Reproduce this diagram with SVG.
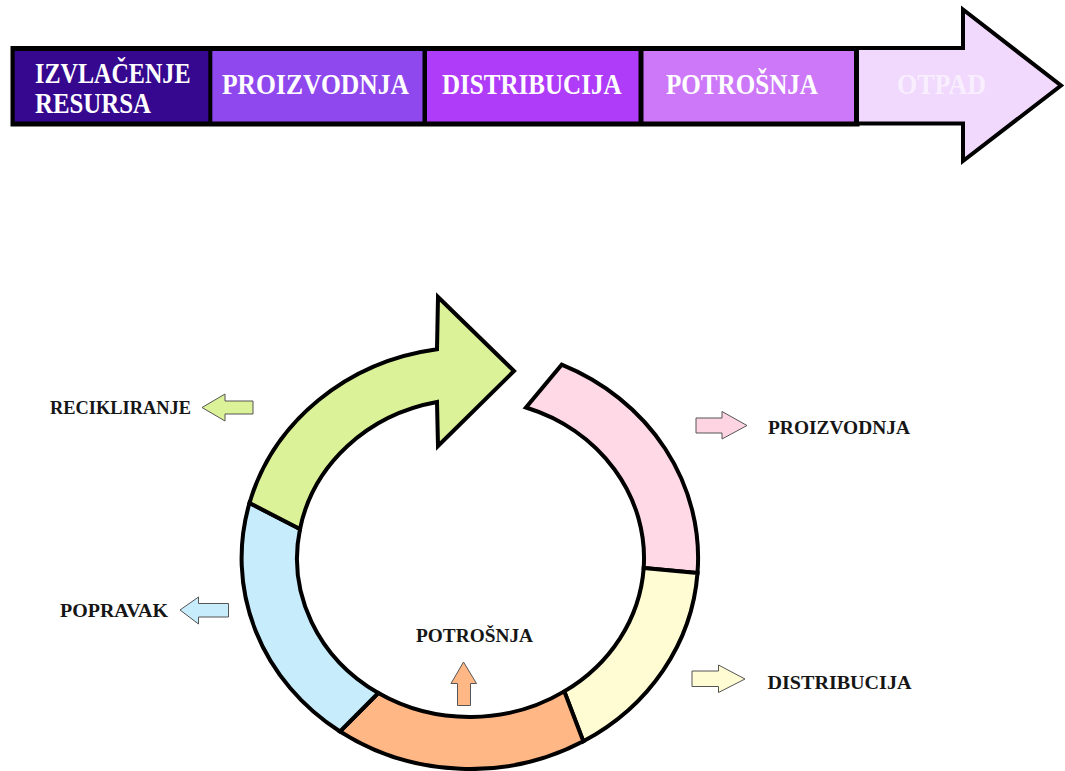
<svg xmlns="http://www.w3.org/2000/svg" width="1065" height="771" viewBox="0 0 1065 771">
<style>
.bt{font-family:"Liberation Serif","Times New Roman",serif;font-weight:bold;font-size:28.5px;fill:#ffffff}
.lb{font-family:"Liberation Serif","Times New Roman",serif;font-weight:bold;font-size:18.5px;fill:#161616}
.seg{stroke:#000;stroke-width:4;stroke-linejoin:miter}
.sa{stroke:#555;stroke-width:1}
</style>
<rect width="1065" height="771" fill="#ffffff"/>
<g id="top-bar">
  <rect x="10.5" y="46" width="849" height="80.5" fill="#000"/>
  <g id="n-izvlacenje">
    <rect x="14.7" y="51" width="193.6" height="70.5" fill="#35088F"/>
    <text class="bt" x="35" y="83" textLength="155.5" lengthAdjust="spacingAndGlyphs">IZVLAČENJE</text>
    <text class="bt" x="35" y="113.3" textLength="116" lengthAdjust="spacingAndGlyphs">RESURSA</text>
  </g>
  <g id="n-proizvodnja">
    <rect x="212.3" y="51" width="210.2" height="70.5" fill="#8F48EE"/>
    <text class="bt" x="222" y="94" textLength="187" lengthAdjust="spacingAndGlyphs">PROIZVODNJA</text>
  </g>
  <g id="n-distribucija">
    <rect x="427" y="51" width="211.5" height="70.5" fill="#AE3CF8"/>
    <text class="bt" x="442" y="94" textLength="179.5" lengthAdjust="spacingAndGlyphs">DISTRIBUCIJA</text>
  </g>
  <g id="n-potrosnja">
    <rect x="643.5" y="51" width="210.5" height="70.5" fill="#CC78F9"/>
    <text class="bt" x="666" y="94" textLength="152" lengthAdjust="spacingAndGlyphs">POTROŠNJA</text>
  </g>
  <g id="n-otpad">
    <polygon points="857,48 963,48 963,9.5 1061,85.5 963,161 963,123.5 857,123.5" fill="#F0D9FC" stroke="#000" stroke-width="4" stroke-linejoin="miter"/>
    <text class="bt" x="897" y="94" textLength="89" lengthAdjust="spacingAndGlyphs" style="fill:#F8EEFE">OTPAD</text>
  </g>
</g>
<g id="cycle">
  <g id="c-proizvodnja">
    <path class="seg" fill="#FFD9E6" d="M561.7,364.7 A228.5,211 0 0 1 697.5,573 L643.7,568 A173.5,159 0 0 0 526,407.5 Z"/>
  </g>
  <g id="c-distribucija">
    <path class="seg" fill="#FFFBD2" d="M697.5,573 A228.5,211 0 0 1 583.3,741.3 L564.3,691.4 A173.5,159 0 0 0 643.7,568 Z"/>
  </g>
  <g id="c-potrosnja">
    <path class="seg" fill="#FFB785" d="M583.3,741.3 A228.5,211 0 0 1 340,731.5 L378.3,693 A173.5,159 0 0 0 564.3,691.4 Z"/>
  </g>
  <g id="c-popravak">
    <path class="seg" fill="#C7ECFC" d="M340,731.5 A228.5,211 0 0 1 249.5,503 L300,529 A173.5,159 0 0 0 378.3,693 Z"/>
  </g>
  <g id="c-recikliranje">
    <path class="seg" fill="#DCF298" d="M249.5,503 A228.5,211 0 0 1 437,349.2 L438,297 L514,371 L438,446 L437,402 A173.5,159 0 0 0 300,529 Z"/>
  </g>
</g>
<g id="connectors">
  <polygon class="sa" fill="#DCF298" points="202,407.5 225,394 225,401 253,401 253,414 225,414 225,421"/>
  <polygon class="sa" fill="#FFD4E2" points="696,418 722,418 722,411.5 747,425.5 722,439 722,433 696,433"/>
  <polygon class="sa" fill="#C7ECFC" points="180,610 198.5,597 198.5,603.5 228.5,603.5 228.5,617 198.5,617 198.5,624"/>
  <polygon class="sa" fill="#FFFBD2" points="692,671 718.5,671 718.5,665 745,679 718.5,692.5 718.5,686.5 692,686.5"/>
  <polygon class="sa" fill="#FFB785" points="463.5,662 476.5,683.5 470.5,683.5 470.5,705.5 457.5,705.5 457.5,683.5 451,683.5"/>
</g>
<g id="labels">
  <text class="lb" x="50" y="413.5" textLength="141" lengthAdjust="spacingAndGlyphs">RECIKLIRANJE</text>
  <text class="lb" x="768" y="433.5" textLength="142" lengthAdjust="spacingAndGlyphs">PROIZVODNJA</text>
  <text class="lb" x="60" y="616.5" textLength="108" lengthAdjust="spacingAndGlyphs">POPRAVAK</text>
  <text class="lb" x="767.5" y="688.5" textLength="144" lengthAdjust="spacingAndGlyphs">DISTRIBUCIJA</text>
  <text class="lb" x="416" y="641.5" textLength="117" lengthAdjust="spacingAndGlyphs">POTROŠNJA</text>
</g>
</svg>
